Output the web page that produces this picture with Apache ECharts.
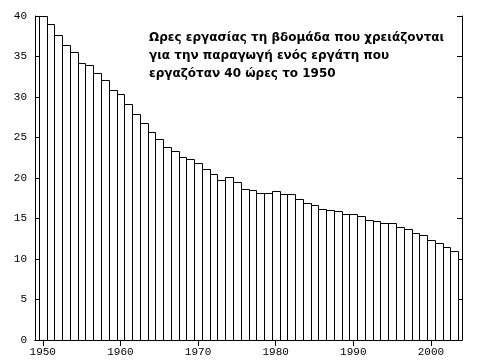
<!DOCTYPE html>
<html>
<head>
<meta charset="utf-8">
<script src="https://cdn.jsdelivr.net/npm/echarts@6/dist/echarts.min.js"></script>
<style>html,body{margin:0;padding:0;background:#fff}#c{width:484px;height:364px}</style>
</head>
<body>
<div id="c"></div>
<script>
var years = [1950,1951,1952,1953,1954,1955,1956,1957,1958,1959,
             1960,1961,1962,1963,1964,1965,1966,1967,1968,1969,
             1970,1971,1972,1973,1974,1975,1976,1977,1978,1979,
             1980,1981,1982,1983,1984,1985,1986,1987,1988,1989,
             1990,1991,1992,1993,1994,1995,1996,1997,1998,1999,
             2000,2001,2002,2003];
var hours = [40.0,39.0,37.7,36.4,35.5,34.2,34.0,33.0,32.1,30.9,
             30.4,29.1,27.9,26.8,25.7,24.8,23.8,23.3,22.55,22.4,
             21.9,21.05,20.45,19.7,20.1,19.5,18.7,18.5,18.2,18.2,
             18.35,18.0,18.0,17.4,16.9,16.7,16.15,16.0,15.9,15.6,
             15.5,15.3,14.8,14.65,14.4,14.4,13.9,13.7,13.2,13.0,
             12.35,12.0,11.5,11.0];
var xTicks = [1950,1960,1970,1980,1990,2000];
var yTicks = [0,5,10,15,20,25,30,35,40];
var titleLines = ['Ωρες εργασίας τη βδομάδα που χρειάζονται',
                  'για την παραγωγή ενός εργάτη που',
                  'εργαζόταν 40 ώρες το 1950'];

var data = years.map(function(y,i){return [y, hours[i]];});
var chart = echarts.init(document.getElementById('c'), null, {renderer:'canvas'});
var labelFont = {color:'#000', fontFamily:'Liberation Mono', fontSize:11};
var line = {show:true, lineStyle:{color:'#000', width:1}};
chart.setOption({
  animation:false,
  backgroundColor:'#fff',
  grid:{left:35, right:22, top:16, bottom:24},
  xAxis:[{
    type:'value', position:'bottom', min:1949, max:2004,
    axisLine:line,
    axisTick:{show:true, inside:true, length:6, lineStyle:{color:'#000'}, customValues:xTicks},
    axisLabel:Object.assign({margin:7, customValues:xTicks, formatter:function(v){return String(v);}}, labelFont),
    splitLine:{show:false}
  },{
    type:'value', position:'top', min:1949, max:2004,
    axisLine:line,
    axisTick:{show:true, inside:true, length:6, lineStyle:{color:'#000'}, customValues:xTicks},
    axisLabel:{show:false},
    splitLine:{show:false}
  }],
  yAxis:[{
    type:'value', position:'left', min:0, max:40, interval:5,
    axisLine:line,
    axisTick:{show:true, inside:true, length:5, lineStyle:{color:'#000'}},
    axisLabel:Object.assign({margin:8}, labelFont),
    splitLine:{show:false}
  },{
    type:'value', position:'right', min:0, max:40, interval:5,
    axisLine:line,
    axisTick:{show:true, inside:true, length:5, lineStyle:{color:'#000'}},
    axisLabel:{show:false},
    splitLine:{show:false}
  }],
  series:[{
    type:'custom',
    xAxisIndex:0, yAxisIndex:0,
    clip:true,
    data:data,
    renderItem:function(params, api){
      var yr = api.value(0), v = api.value(1);
      var p0 = api.coord([yr-0.5, v]);
      var p1 = api.coord([yr+0.5, 0]);
      var x0 = Math.round(p0[0])+0.5, x1 = Math.round(p1[0])+0.5;
      var y0 = Math.round(p0[1])+0.5, y1 = Math.round(p1[1])+0.5;
      return {type:'rect', shape:{x:x0, y:y0, width:x1-x0, height:y1-y0},
              style:{fill:'#fff', stroke:'#000', lineWidth:1}};
    }
  }],
  graphic:[{
    type:'text', left:149, top:29, z:100,
    style:{text:titleLines.join('\n'), font:'bold 12px "DejaVu Sans"', lineHeight:18, fill:'#000'}
  }]
});
</script>
</body>
</html>
